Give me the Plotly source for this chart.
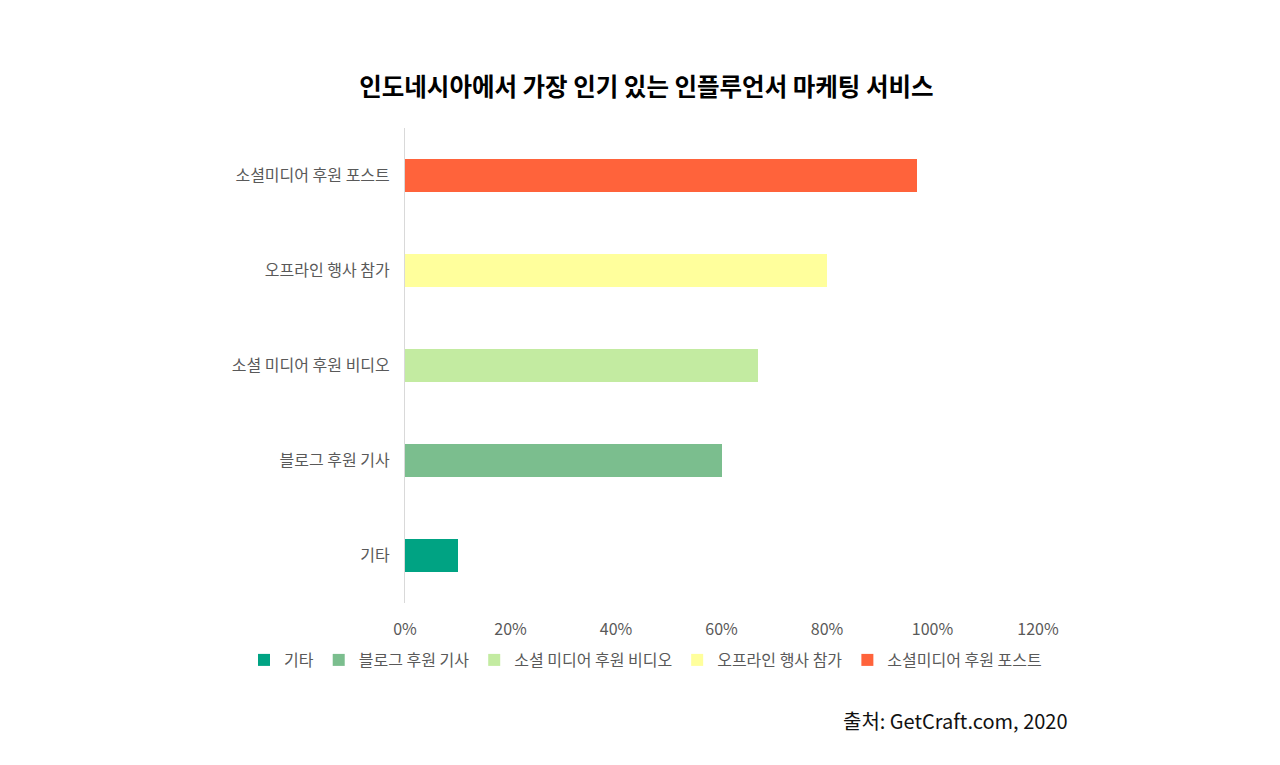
import plotly.graph_objects as go

categories = ["기타", "블로그 후원 기사", "소셜 미디어 후원 비디오", "오프라인 행사 참가", "소셜미디어 후원 포스트"]
values = [0.10, 0.60, 0.67, 0.80, 0.97]
colors = ["#00A383", "#7BBE8E", "#C3EBA1", "#FFFF9C", "#FF633B"]
tick_vals = [0, 0.2, 0.4, 0.6, 0.8, 1.0, 1.2]
tick_text = ["0%", "20%", "40%", "60%", "80%", "100%", "120%"]

FONT = "Noto Sans CJK KR"
PL, PR, PT, PB = 405, 242, 128, 162
PW, PH = 1280 - PL - PR, 765 - PT - PB

fig = go.Figure()
for cat, val, col in zip(categories, values, colors):
    fig.add_trace(go.Bar(
        y=[cat], x=[val], name=cat, orientation="h",
        marker=dict(color=col, line=dict(width=0)),
        hovertemplate="%{y}: %{x:.0%}<extra></extra>",
    ))

fig.update_layout(
    width=1280, height=765,
    paper_bgcolor="white", plot_bgcolor="white",
    margin=dict(l=PL, r=PR, t=PT, b=PB, autoexpand=False),
    barmode="stack", bargap=0.65,
    font=dict(family=FONT, color="#595959", size=16),
    title=dict(
        text="<b>인도네시아에서 가장 인기 있는 인플루언서 마케팅 서비스</b>",
        x=0.505, xanchor="center", y=1 - 87 / 765, yanchor="middle",
        font=dict(family=FONT, size=24.5, color="#000000"),
    ),
    xaxis=dict(
        range=[0, 1.2], tickvals=tick_vals, ticktext=tick_text,
        showgrid=False, zeroline=False, showline=False,
        ticks="outside", ticklen=12, tickcolor="rgba(0,0,0,0)",
        tickfont=dict(size=16, color="#595959"),
        fixedrange=True,
    ),
    yaxis=dict(
        categoryorder="array", categoryarray=categories,
        showgrid=False, zeroline=False,
        showline=True, linecolor="#D9D9D9", linewidth=1,
        ticks="outside", ticklen=11, tickcolor="rgba(0,0,0,0)",
        tickfont=dict(size=16, color="#595959"),
        fixedrange=True,
    ),
    legend=dict(
        orientation="h", xref="paper", yref="paper",
        x=(244 - PL) / PW, xanchor="left",
        y=-(660 - (765 - PB)) / PH, yanchor="middle",
        font=dict(size=16, color="#595959"),
        bgcolor="rgba(0,0,0,0)",
        itemwidth=30, traceorder="normal",
    ),
    showlegend=True,
    annotations=[dict(
        text="출처: GetCraft.com, 2020", xref="paper", yref="paper",
        x=(1070 - PL) / PW, xanchor="right",
        y=-(720 - (765 - PB)) / PH, yanchor="middle",
        showarrow=False, font=dict(family=FONT, size=20, color="#111111"),
    )],
)

fig.write_html("out.html")
